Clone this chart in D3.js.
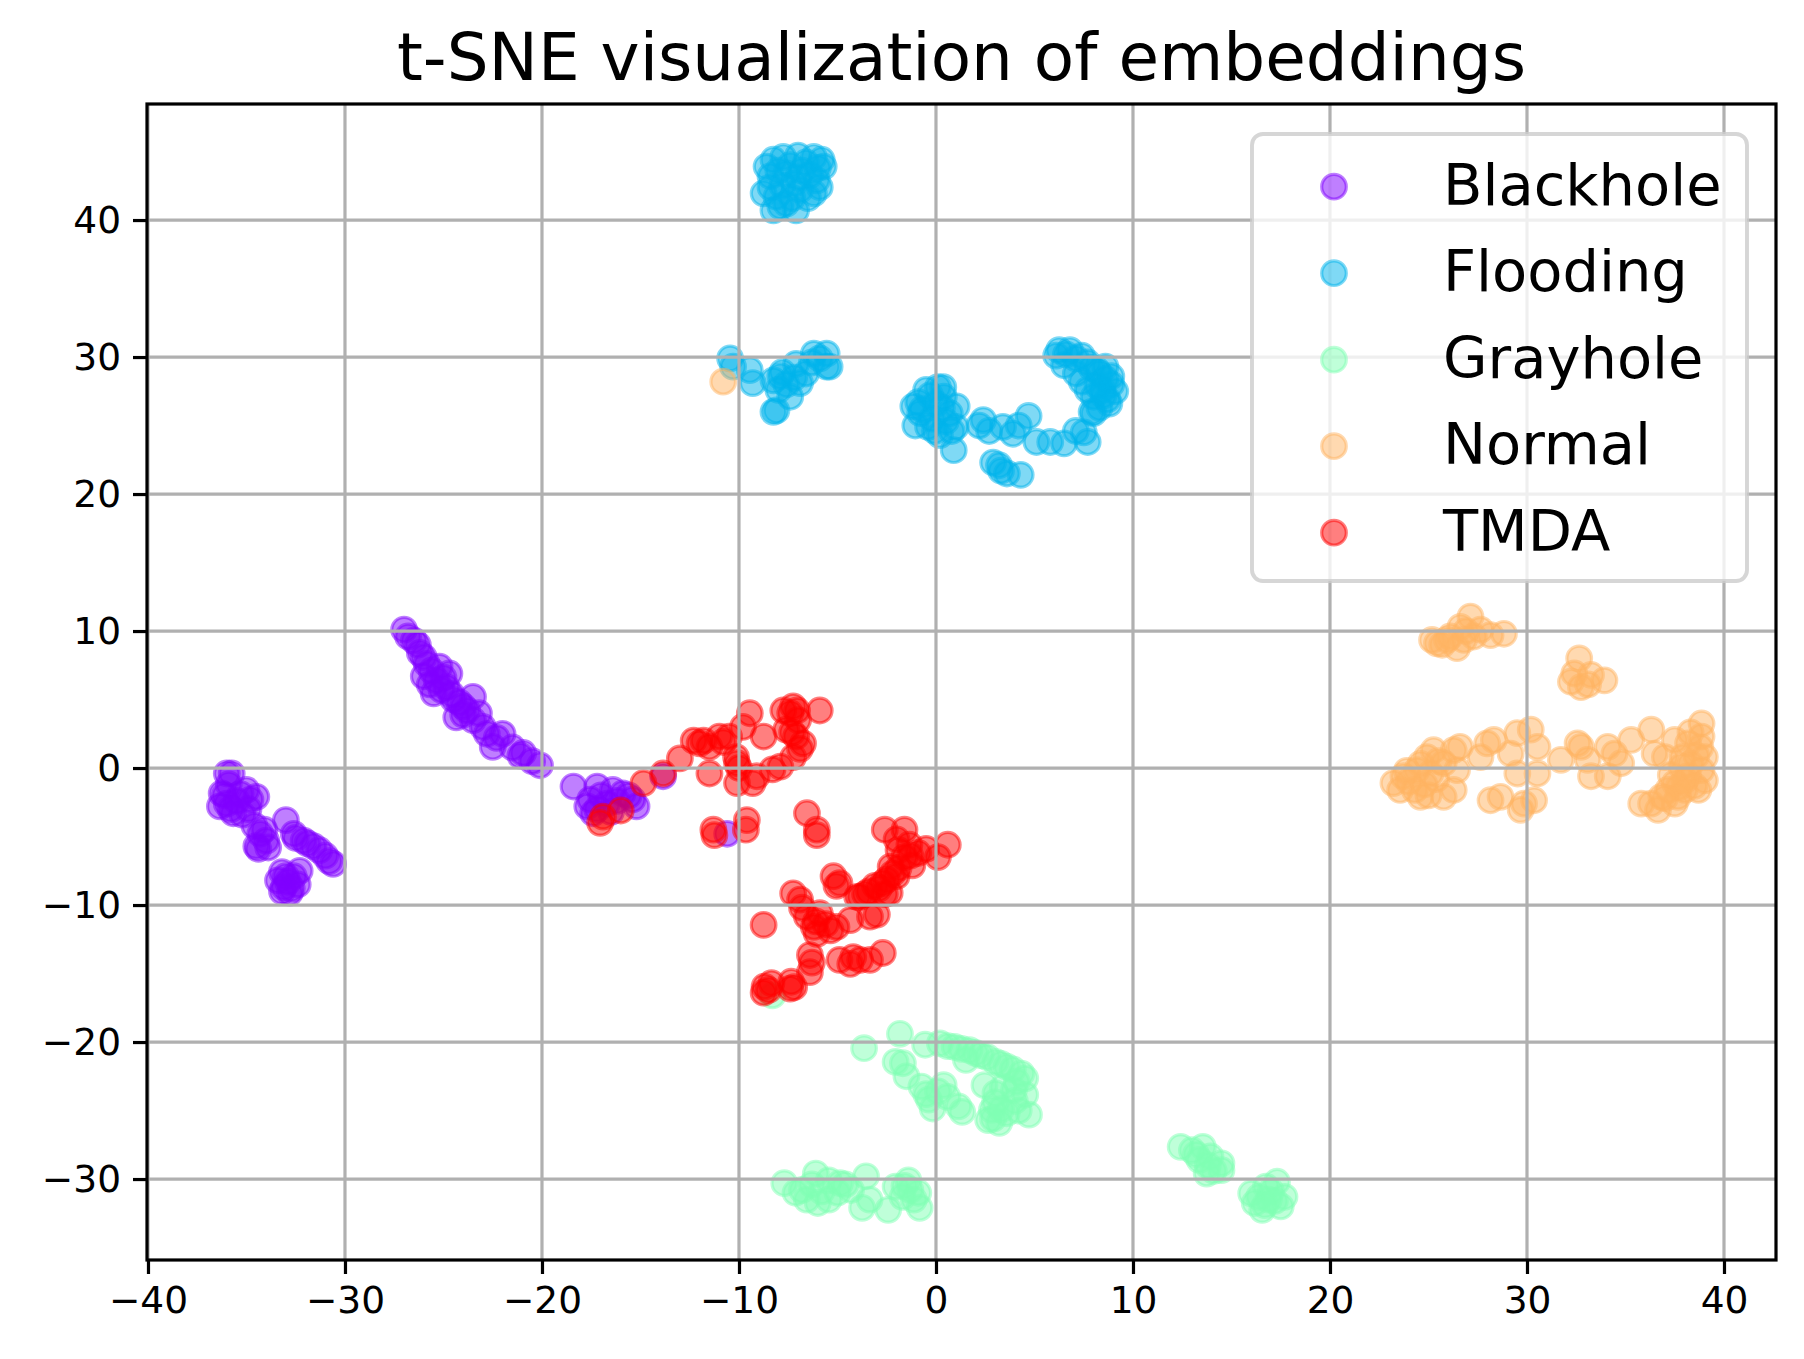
<!DOCTYPE html>
<html>
<head>
<meta charset="utf-8">
<script src="https://cdn.jsdelivr.net/npm/d3@7"></script>
<style>
  body { margin: 0; background: #fff; }
  text { font-family: "DejaVu Sans", sans-serif; }
</style>
</head>
<body>
<div id="chart"></div>
<script>
// class names and colours (rainbow colormap, 5 steps)
var classNames = ["Blackhole", "Flooding", "Grayhole", "Normal", "TMDA"];
var classColors = ["#8000ff", "#00b4eb", "#80ffb4", "#ffb462", "#ff0000"];

var xTicks = [-40, -30, -20, -10, 0, 10, 20, 30, 40];
var yTicks = [-30, -20, -10, 0, 10, 20, 30, 40];

// t-SNE points, [x, y]
var blackhole = [
  [-36.0,-0.4],[-35.75,-0.4],[-36.26,-1.85],[-36.0,-2.6],[-36.35,-2.8],[-35.67,-3.3],[-35.0,-1.6],[-34.5,-2.1],
  [-34.8,-2.3],[-34.3,-4.8],[-34.5,-5.7],[-34.0,-5.3],[-34.6,-4.2],[-33.0,-3.8],[-32.6,-4.8],[-32.1,-5.3],
  [-31.6,-5.7],[-30.8,-6.8],[-31.0,-6.4],[-33.0,-7.9],[-33.1,-8.7],[-32.4,-8.5],[-33.4,-8.2],[-32.8,-9.1],[-32.3,-7.5],
  [-35.9,-1.2],[-36.1,-2.0],[-35.5,-2.4],[-35.3,-1.9],[-35.8,-3.0],[-35.2,-3.4],[-34.9,-3.0],[-34.1,-4.5],
  [-33.9,-5.8],[-34.4,-5.9],[-32.9,-8.3],[-32.6,-7.9],[-33.2,-7.6],[-32.7,-8.8],[-33.2,-9.0],[-32.5,-5.1],
  [-31.9,-5.5],[-30.6,-7.0],[-31.3,-6.0],
  [-27.0,10.1],[-26.5,9.3],[-26.2,8.4],[-25.85,7.6],[-26.0,6.7],[-25.35,6.4],[-24.85,5.9],[-25.5,5.45],
  [-24.5,5.0],[-24.0,4.5],[-24.35,3.7],[-23.5,3.5],[-22.8,2.5],[-22.0,2.5],[-22.5,1.55],[-20.95,1.1],
  [-20.1,0.2],[-21.1,0.9],[-25.2,7.4],[-24.7,6.9],[-23.5,5.2],[-23.2,4.0],
  [-26.8,9.6],[-26.3,9.0],[-26.0,8.1],[-25.6,7.1],[-25.0,6.6],[-25.1,5.7],[-24.6,5.4],[-24.2,4.8],
  [-23.8,4.2],[-23.0,3.0],[-22.3,2.2],[-21.5,1.5],[-20.5,0.5],[-24.0,3.9],[-25.7,6.1],
  [-18.4,-1.35],[-17.55,-2.3],[-17.2,-1.35],[-16.4,-1.6],[-15.9,-1.85],[-15.4,-2.3],[-15.2,-2.8],
  [-17.4,-3.3],[-16.7,-2.6],[-17.7,-2.8],[-17.0,-2.0],[-16.2,-2.4],[-15.6,-2.0],[-17.2,-3.0],[-16.5,-3.2],
  [-10.6,-4.8],[-13.85,-0.6]
];
var flooding = [
  [-8.25,44.4],[-7.75,44.6],[-7.0,44.7],[-6.2,44.6],[-5.7,43.9],[-8.6,43.9],[-8.4,43.2],[-7.6,43.4],
  [-6.8,43.6],[-6.05,42.9],[-6.2,41.95],[-6.9,42.2],[-8.75,41.95],[-8.1,41.7],[-8.25,40.7],[-7.1,40.7],
  [-7.6,41.2],[-5.9,42.4],[-7.2,42.65],
  [-7.4,44.0],[-6.6,44.2],[-8.0,43.6],[-7.0,43.1],[-6.4,43.3],[-7.8,42.5],[-8.4,42.4],[-6.5,41.6],
  [-7.3,41.6],[-7.9,41.0],[-6.0,43.8],[-5.8,44.4],
  [-10.45,29.9],[-10.3,29.3],[-9.45,29.05],[-9.3,28.1],[-8.25,28.3],[-7.9,28.6],[-7.6,28.0],[-7.4,27.1],
  [-8.25,26.0],[-7.1,29.5],[-6.6,28.8],[-6.2,30.25],[-5.55,30.25],[-5.55,29.3],[-6.9,28.1],[-5.4,29.3],[-8.1,26.1],
  [-7.8,28.9],[-7.2,28.5],[-6.3,29.6],[-8.0,27.6],[-5.9,29.9],
  [-0.9,26.7],[-0.5,27.6],[0.1,27.8],[0.4,27.1],[-0.8,25.9],[-0.2,25.5],[0.7,25.9],[-1.05,25.0],
  [1.0,24.9],[0.9,23.2],[-0.05,24.6],[0.3,26.3],[-1.15,26.4],[0.37,27.8],[1.05,26.4],[2.4,25.4],
  [-0.7,26.2],[0.0,26.6],[0.5,25.3],[-0.4,24.9],[-0.3,27.2],[0.2,24.3],[0.8,24.6],
  [2.2,25.0],[2.7,24.6],[3.4,24.9],[3.9,24.4],[4.7,25.7],[4.2,25.0],[5.1,23.8],[5.8,23.8],[6.5,23.7],
  [7.1,24.6],[7.7,23.8],
  [2.9,22.3],[3.3,21.7],[3.6,21.5],[4.3,21.4],[3.2,22.1],
  [6.25,30.5],[6.8,30.5],[7.4,30.1],[6.5,29.4],[7.9,29.2],[8.3,28.8],[8.6,28.4],[8.9,28.0],[8.45,27.6],
  [8.0,27.1],[8.3,26.3],[8.7,26.9],[7.7,27.6],[7.1,28.8],[6.1,30.1],[7.4,28.2],[8.0,25.9],[9.1,27.5],[7.5,24.5],
  [6.6,30.2],[7.1,29.9],[7.7,29.6],[8.2,29.0],[8.5,27.2],[8.8,26.6],[8.2,27.9],[8.6,29.3],[7.9,26.0],[8.9,28.6]
];
var grayhole = [
  [-8.3,-16.6],
  [-3.65,-20.45],[-1.83,-19.4],[-1.68,-21.55],[-2.05,-21.45],[-1.5,-22.5],[-0.74,-23.25],[-0.36,-24.2],
  [-0.17,-24.85],[0.39,-23.15],[0.58,-24.0],[1.14,-24.7],[1.33,-25.1],[-0.55,-20.2],[0.2,-20.1],[0.95,-20.35],
  [1.7,-20.6],[2.27,-20.95],[3.02,-21.45],[3.59,-21.8],[4.34,-22.3],[4.53,-22.65],[2.46,-23.15],[3.02,-23.75],
  [3.96,-23.5],[4.53,-23.85],[2.84,-24.95],[3.59,-25.2],[4.72,-25.3],[3.21,-25.9],[2.65,-25.7],[1.52,-21.3],
  [0.6,-20.3],[1.3,-20.5],[2.0,-20.8],[2.6,-21.1],[3.3,-21.6],[3.9,-22.0],[4.1,-22.9],[3.4,-23.3],
  [4.0,-24.3],[3.0,-24.4],[3.3,-24.9],[4.2,-25.0],[2.9,-25.6],[-0.5,-23.8],[0.1,-23.6],
  [-7.7,-30.3],[-7.13,-31.0],[-6.56,-31.5],[-6.1,-29.6],[-6.0,-31.75],[-5.44,-30.1],[-5.44,-31.5],[-4.87,-30.3],
  [-4.31,-30.8],[-3.55,-29.8],[-3.75,-32.1],[-3.37,-31.5],[-2.43,-32.25],[-2.05,-30.55],[-1.4,-30.1],
  [-1.12,-31.5],[-0.83,-32.1],[-1.7,-31.3],
  [-6.8,-30.8],[-6.3,-30.4],[-5.8,-30.9],[-5.0,-31.0],[-4.6,-30.4],[-1.3,-30.8],[-1.6,-30.5],[-0.9,-31.0],
  [12.42,-27.65],[12.99,-27.9],[13.55,-27.65],[13.37,-28.6],[13.93,-28.35],[14.49,-28.85],[13.74,-29.6],
  [14.49,-29.35],[16.0,-31.05],[16.18,-31.75],[16.75,-30.55],[17.31,-30.2],[17.69,-31.3],[17.5,-32.0],
  [16.56,-32.25],[16.9,-31.5],
  [13.2,-28.2],[13.8,-29.0],[16.4,-31.3],[17.0,-30.9],[17.2,-31.6],[16.7,-31.9],[14.1,-29.4]
];
var normal = [
  [-10.8,28.2],
  [25.43,9.1],[25.18,9.35],[25.94,9.35],[26.45,8.75],[26.62,10.3],[27.13,11.05],[27.3,9.6],[27.64,10.1],
  [28.15,9.7],[28.83,9.8],[26.8,9.35],[25.7,9.0],[26.1,9.6],[26.9,10.0],
  [32.65,8.0],[32.4,6.9],[32.23,6.3],[32.74,5.9],[33.25,6.8],[33.93,6.4],[33.1,6.1],
  [23.22,-1.1],[23.73,-0.6],[23.56,-1.6],[24.59,-2.1],[24.41,-0.15],[24.92,0.8],[25.26,1.3],[25.77,0.35],
  [25.77,-2.1],[26.28,-1.6],[26.28,1.3],[26.6,1.55],[25.4,-0.8],[26.45,-0.15],[27.64,0.8],[27.98,1.8],
  [28.32,2.05],[28.15,-2.35],[28.66,-2.1],[29.51,2.55],[30.19,2.8],[30.53,1.55],[29.17,1.05],[29.51,-0.4],
  [30.53,-0.4],[29.85,-2.6],[29.68,-3.05],[30.36,-2.35],[31.72,0.6],[32.57,1.8],[32.74,1.55],[33.08,0.6],
  [33.25,-0.6],[34.1,-0.6],[34.1,1.55],[34.44,1.05],[34.78,0.35],[35.29,2.05],[36.31,2.8],[36.48,1.05],
  [37.5,2.05],[37.0,0.8],[38.86,3.25],[38.86,2.3],[38.18,1.8],[39.03,0.8],[38.86,-0.15],[39.03,-0.9],
  [37.84,0.1],[38.18,-0.6],[38.7,-1.6],[37.5,-1.1],[37.16,-1.6],[36.82,-2.1],[37.5,-2.6],[36.65,-3.05],
  [35.8,-2.6],[36.3,-2.6],[38.5,-1.3],[38.0,-1.6],[37.67,-2.1],
  [38.3,0.3],[38.6,0.9],[38.0,-0.9],[37.7,-1.4],[38.8,1.5],[37.3,-0.5],[38.3,2.6],[37.0,-2.2],[37.9,0.8],
  [24.0,-1.0],[24.3,-1.6],[24.8,-1.2],[25.1,-0.4],[25.5,0.5],[24.6,0.3],[23.9,-0.2],[25.0,-2.0]
];
var tmda = [
  [-16.9,-3.55],[-16.0,-3.1],[-17.05,-4.0],[-14.85,-1.1],[-13.85,-0.4],[-13.0,0.7],[-12.3,2.0],[-12.0,1.8],
  [-11.5,1.55],[-11.5,-0.4],[-11.0,2.3],[-10.5,2.3],[-9.45,4.0],[-9.8,3.0],[-10.1,-1.1],[-10.1,0.35],
  [-9.1,-0.6],[-8.75,2.3],[-7.75,4.2],[-7.25,4.5],[-7.05,4.2],[-5.9,4.2],[-7.6,2.8],[-7.1,2.3],[-6.75,1.8],
  [-7.25,0.8],[-7.9,0.1],[-8.3,-0.1],[-9.3,-1.1],[-10.15,0.8],[-11.3,-4.5],[-11.25,-4.9],[-9.6,-3.8],
  [-9.65,-4.5],[-6.55,-3.3],[-6.05,-4.5],[-6.05,-4.9],
  [-7.4,4.0],[-7.0,3.5],[-7.3,2.6],[-6.9,1.4],[-10.8,1.9],[-11.8,2.0],[-10.0,0.0],
  [-8.75,-11.45],[-8.7,-15.95],[-8.75,-16.4],[-8.35,-15.7],[-7.35,-15.6],[-7.4,-16.1],[-6.4,-14.9],
  [-6.4,-13.65],[-6.2,-11.6],[-6.55,-10.85],[-7.25,-9.15],[-6.9,-9.6],[-5.9,-10.6],[-6.05,-12.1],
  [-5.05,-11.6],[-5.35,-11.85],[-4.9,-14.0],[-4.35,-14.3],[-3.85,-14.0],[-3.35,-14.0],[-2.7,-13.5],
  [-4.35,-11.1],[-3.35,-10.85],[-4.9,-8.4],[-5.05,-8.6],[-3.85,-9.4],[-2.7,-8.4],[-2.0,-7.9],[-2.35,-9.1],
  [-5.2,-7.9],
  [-4.2,-13.8],[-7.2,-16.0],[-8.5,-16.2],[-6.3,-14.2],[-6.1,-11.2],[-5.6,-11.4],[-6.8,-10.2],
  [-2.6,-4.5],[-2.0,-5.2],[-1.6,-4.5],[-1.35,-5.6],[-0.9,-6.2],[-0.5,-5.9],[0.6,-5.6],[0.1,-6.5],
  [-1.6,-6.5],[-1.9,-7.3],[-2.5,-8.15],[-3.1,-8.6],[-3.6,-9.2],[-4.0,-9.4],[-2.6,-9.2],[-3.0,-10.7],
  [-2.2,-7.7],[-1.2,-7.1],[-1.9,-6.0],[-1.3,-6.4],[-2.3,-7.2],[-2.9,-8.8],[-3.4,-9.0]
];

var seriesData = [blackhole, flooding, grayhole, normal, tmda];

var W = 1804, H = 1359;
var margin = { top: 104, right: 28, bottom: 99, left: 147 };
var width = W - margin.left - margin.right;
var height = H - margin.top - margin.bottom;
var lw = 3.2;          // 0.8pt at the figure dpi
var markerR = 12.3;

var svg = d3.select("#chart").append("svg").attr("width", W).attr("height", H);

var x = d3.scaleLinear().domain([-40.05, 42.64]).range([0, width]);
var y = d3.scaleLinear().domain([-35.91, 48.47]).range([height, 0]);

var g = svg.append("g").attr("transform", "translate(" + margin.left + "," + margin.top + ")");

// points
seriesData.forEach(function (pts, i) {
    g.append("g").selectAll("circle").data(pts).enter().append("circle")
        .attr("cx", function (d) { return x(d[0]); })
        .attr("cy", function (d) { return y(d[1]); })
        .attr("r", markerR)
        .attr("fill", classColors[i]).attr("fill-opacity", 0.5)
        .attr("stroke", classColors[i]).attr("stroke-opacity", 0.5)
        .attr("stroke-width", lw);
});

// grid (drawn above the points, like matplotlib)
var grid = g.append("g").attr("class", "grid");
grid.selectAll(".vx").data(xTicks).enter().append("line")
    .attr("x1", function (d) { return x(d); }).attr("x2", function (d) { return x(d); })
    .attr("y1", 0).attr("y2", height)
    .attr("stroke", "#b0b0b0").attr("stroke-width", lw);
grid.selectAll(".hy").data(yTicks).enter().append("line")
    .attr("y1", function (d) { return y(d); }).attr("y2", function (d) { return y(d); })
    .attr("x1", 0).attr("x2", width)
    .attr("stroke", "#b0b0b0").attr("stroke-width", lw);

// axes
var xAxis = g.append("g").attr("transform", "translate(0," + height + ")")
    .call(d3.axisBottom(x).tickValues(xTicks).tickSizeOuter(0).tickSize(14).tickPadding(12));
var yAxis = g.append("g")
    .call(d3.axisLeft(y).tickValues(yTicks).tickSizeOuter(0).tickSize(14).tickPadding(12));
[xAxis, yAxis].forEach(function (a) {
    a.select(".domain").remove();
    a.selectAll(".tick line").attr("stroke", "#000").attr("stroke-width", lw);
    a.selectAll(".tick text").attr("fill", "#000").style("font-size", "37.5px");
});

// spines
g.append("rect").attr("width", width).attr("height", height)
    .attr("fill", "none").attr("stroke", "#000").attr("stroke-width", lw);

// title
svg.append("text").attr("x", margin.left + width / 2).attr("y", 80)
    .attr("text-anchor", "middle").style("font-size", "66px").attr("fill", "#000")
    .text("t-SNE visualization of embeddings");

// legend
var legend = svg.append("g");
legend.append("rect").attr("x", 1252).attr("y", 134).attr("width", 495).attr("height", 447)
    .attr("rx", 11).attr("ry", 11)
    .attr("fill", "#fff").attr("fill-opacity", 0.8)
    .attr("stroke", "#cccccc").attr("stroke-opacity", 0.8).attr("stroke-width", 3.9);
var item = legend.selectAll(".lineLegend").data(classNames).enter().append("g")
    .attr("class", "lineLegend")
    .attr("transform", function (d, i) { return "translate(1334," + (186.7 + i * 86.5) + ")"; });
item.append("circle").attr("r", markerR)
    .attr("fill", function (d, i) { return classColors[i]; }).attr("fill-opacity", 0.5)
    .attr("stroke", function (d, i) { return classColors[i]; }).attr("stroke-opacity", 0.5)
    .attr("stroke-width", lw);
item.append("text").attr("x", 109).attr("y", 18).style("font-size", "57.5px").attr("fill", "#000")
    .text(function (d) { return d; });
</script>
</body>
</html>
